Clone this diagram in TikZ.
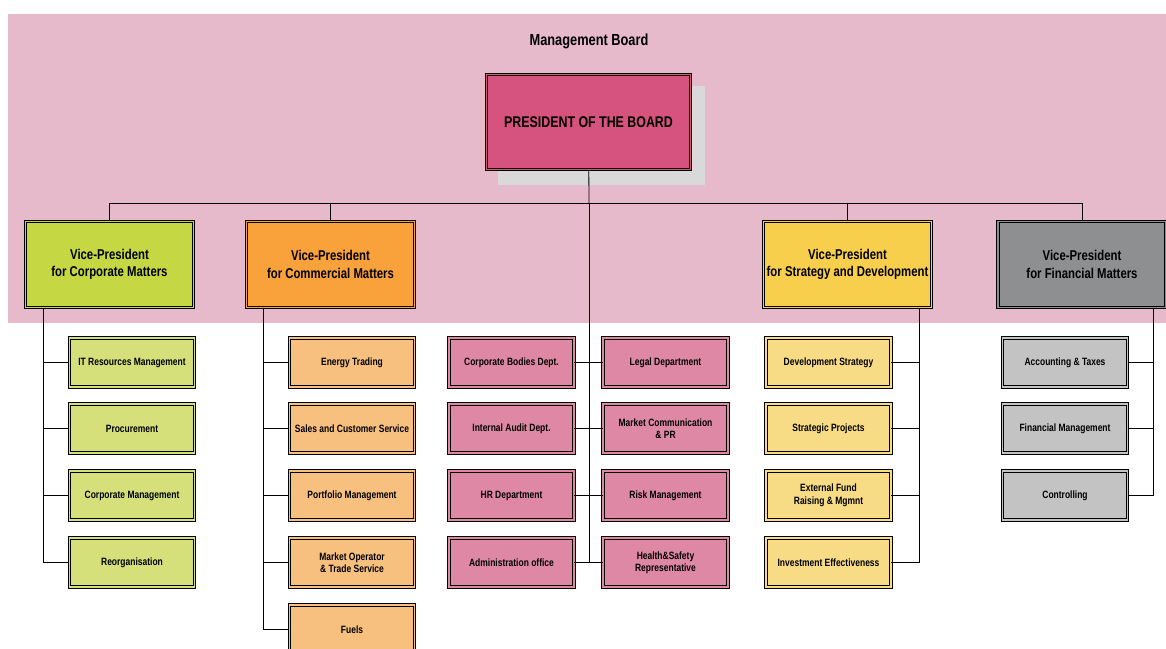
\documentclass[tikz,border=0pt]{standalone}
\usepackage{fontspec}
\setmainfont{Liberation Sans}[FakeStretch=0.8]
\definecolor{bandpink}{HTML}{E6BACB}
\definecolor{prescol}{HTML}{D6527F}
\definecolor{shadowcol}{HTML}{D9D9D9}
\definecolor{vplime}{HTML}{C5D844}
\definecolor{vporange}{HTML}{F9A13A}
\definecolor{vpyellow}{HTML}{F8CF4C}
\definecolor{vpgrey}{HTML}{8E8F91}
\definecolor{sublime}{HTML}{D5E07B}
\definecolor{suborange}{HTML}{F7C07F}
\definecolor{subpink}{HTML}{DF88A5}
\definecolor{subyellow}{HTML}{F7DC85}
\definecolor{subgrey}{HTML}{C3C3C3}

\begin{document}
\begin{tikzpicture}[x=1pt,y=-1pt,
  box/.style={draw, fill=#1, double=#1, double distance=1.6pt, line width=0.75pt,
    align=center, inner sep=2pt},
  sub/.style={box=#1, minimum width=125pt, minimum height=49pt,
    font=\bfseries\fontsize{10.6}{12.5}\selectfont},
  vp/.style={box=#1, minimum width=168pt, minimum height=86pt,
    font=\bfseries\fontsize{14.2}{17.5}\selectfont},
  link/.style={line width=0.8pt}]
\useasboundingbox (0,0) rectangle (1166,648);
\fill[white] (0,0) rectangle (1166,648);
\fill[bandpink] (8,14) rectangle (1166,323);
\node[font=\bfseries\fontsize{16}{18}\selectfont] (mb) at (589,41) {Management Board};
\fill[shadowcol] (498,86) rectangle (705,185);
\node[box=prescol, minimum width=204pt, minimum height=95pt,
  font=\bfseries\fontsize{15.5}{18}\selectfont] (pres) at (588.5,122) {PRESIDENT OF THE BOARD};

\node[vp=vplime] (vc) at (109.5,264.5) {Vice-President\\for Corporate Matters};
\node[vp=vporange] (vm) at (330.5,264.5) {Vice-President\\for Commercial Matters};
\node[vp=vpyellow] (vs) at (847.5,264.5) {Vice-President\\for Strategy and Development};
\node[vp=vpgrey] (vf) at (1082,264.5) {Vice-President\\for Financial Matters};

\node[sub=sublime] (c1) at (132,362.5) {IT Resources Management};
\node[sub=sublime] (c2) at (132,428.5) {Procurement};
\node[sub=sublime] (c3) at (132,495.5) {Corporate Management};
\node[sub=sublime] (c4) at (132,562.5) {Reorganisation};

\node[sub=suborange] (m1) at (352,362.5) {Energy Trading};
\node[sub=suborange] (m2) at (352,428.5) {Sales and Customer Service};
\node[sub=suborange] (m3) at (352,495.5) {Portfolio Management};
\node[sub=suborange] (m4) at (352,562.5) {Market Operator\\\& Trade Service};
\node[sub=suborange] (m5) at (352,629.5) {Fuels};

\node[sub=subpink] (l1) at (511.5,362.5) {Corporate Bodies Dept.};
\node[sub=subpink] (l2) at (511.5,428.5) {Internal Audit Dept.};
\node[sub=subpink] (l3) at (511.5,495.5) {HR Department};
\node[sub=subpink] (l4) at (511.5,562.5) {Administration office};
\node[sub=subpink] (r1) at (665.5,362.5) {Legal Department};
\node[sub=subpink] (r2) at (665.5,428.5) {Market Communication\\\& PR};
\node[sub=subpink] (r3) at (665.5,495.5) {Risk Management};
\node[sub=subpink] (r4) at (665.5,562.5) {Health\&Safety\\Representative};

\node[sub=subyellow] (s1) at (828.5,362.5) {Development Strategy};
\node[sub=subyellow] (s2) at (828.5,428.5) {Strategic Projects};
\node[sub=subyellow] (s3) at (828.5,495.5) {External Fund\\Raising \& Mgmnt};
\node[sub=subyellow] (s4) at (828.5,562.5) {Investment Effectiveness};

\node[sub=subgrey] (f1) at (1065,362.5) {Accounting \& Taxes};
\node[sub=subgrey] (f2) at (1065,428.5) {Financial Management};
\node[sub=subgrey] (f3) at (1065,495.5) {Controlling};

\coordinate (bus) at (589,203);
\coordinate (mid) at (589,562.5);
\coordinate (ca) at (43,562.5);
\coordinate (ma) at (263,629.5);
\coordinate (sa) at (919,562.5);
\coordinate (fa) at (1153,495.5);

\draw[link] (pres) -- (bus);
\foreach \v in {vc,vm,vs,vf}
  \draw[link] (\v.north) |- (bus);
\draw[link] (bus) -- (mid);
\foreach \n in {1,...,4}
  \draw[link] (l\n.east) -- (r\n.west);
\draw[link] (vc.south -| ca) -- (ca);
\foreach \n in {c1,c2,c3,c4}
  \draw[link] (\n.west) -- (\n.west -| ca);
\draw[link] (vm.south -| ma) -- (ma);
\foreach \n in {m1,m2,m3,m4,m5}
  \draw[link] (\n.west) -- (\n.west -| ma);
\draw[link] (vs.south -| sa) -- (sa);
\foreach \n in {s1,s2,s3,s4}
  \draw[link] (\n.east) -- (\n.east -| sa);
\draw[link] (vf.south -| fa) -- (fa);
\foreach \n in {f1,f2,f3}
  \draw[link] (\n.east) -- (\n.east -| fa);
\end{tikzpicture}
\end{document}
